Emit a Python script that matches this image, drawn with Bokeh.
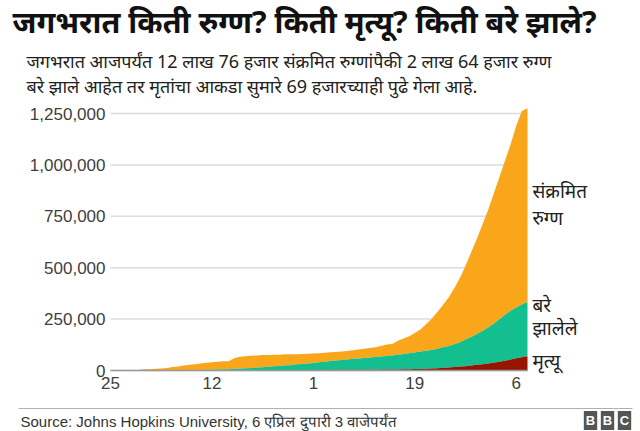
from bokeh.plotting import figure
from bokeh.models import Label, FixedTicker, NumeralTickFormatter, Range1d
from bokeh.embed import file_html
from bokeh.resources import INLINE

# Day index along the x axis (one value per day)
day = list(range(75))

# Cumulative totals, in thousands
confirmed_k = [0.6, 0.7, 0.9, 1.4, 2.1, 2.9, 5.6, 6.2, 8.2, 9.9,
               12.0, 16.8, 19.9, 23.9, 27.6, 30.8, 34.4, 37.1, 40.2, 42.8,
               44.8, 45.2, 60.4, 66.9, 69.0, 71.2, 73.3, 75.1, 75.6, 76.2,
               76.8, 78.6, 79.0, 79.6, 80.4, 81.4, 82.7, 84.1, 86.0, 88.4,
               90.3, 92.8, 95.1, 97.9, 101.8, 105.8, 109.8, 113.6, 118.6, 125.9,
               128.4, 145.0, 156.0, 167.0, 182.0, 200.0, 225.0, 252.0, 285.0, 318.0,
               355.0, 400.0, 450.0, 510.0, 575.0, 640.0, 710.0, 780.0, 860.0, 940.0,
               1020.0, 1100.0, 1190.0, 1262.0, 1276.0]

recovered_k = [0.03, 0.03, 0.04, 0.04, 0.05, 0.07, 0.11, 0.13, 0.14, 0.22,
               0.28, 0.47, 0.62, 0.89, 1.12, 1.47, 1.98, 2.49, 3.1, 3.69,
               4.49, 5.18, 6.63, 8.28, 9.33, 10.7, 12.4, 14.2, 16.1, 18.3,
               19.2, 23.2, 23.5, 27.3, 29.3, 31.0, 33.8, 37.0, 39.8, 42.7,
               45.5, 48.4, 50.5, 53.3, 55.2, 57.8, 59.2, 61.2, 63.7, 66.4,
               68.3, 70.6, 74.2, 77.6, 80.9, 84.1, 87.3, 90.1, 94.7, 100.0,
               105.0, 111.0, 119.0, 129.0, 139.0, 150.0, 161.0, 175.0, 190.0, 207.0,
               224.0, 237.0, 248.0, 256.0, 264.0]

deaths_k = [0.02, 0.02, 0.03, 0.04, 0.06, 0.08, 0.13, 0.13, 0.17, 0.21,
            0.26, 0.36, 0.43, 0.49, 0.56, 0.63, 0.72, 0.81, 0.91, 1.01,
            1.11, 1.12, 1.37, 1.52, 1.67, 1.77, 1.87, 2.01, 2.12, 2.25,
            2.25, 2.46, 2.47, 2.63, 2.71, 2.77, 2.81, 2.87, 2.94, 3.0,
            3.09, 3.16, 3.25, 3.35, 3.46, 3.56, 3.8, 4.0, 4.26, 4.62,
            4.72, 5.4, 5.82, 6.44, 7.13, 7.9, 8.73, 9.87, 11.3, 13.0,
            14.6, 16.5, 18.9, 21.2, 24.1, 27.4, 30.9, 34.0, 37.6, 42.1,
            47.2, 53.2, 59.0, 64.6, 69.4]

x_ticks = [0, 18, 36, 54, 72]
x_tick_labels = ["25", "12", "1", "19", "6"]
y_ticks = [0, 250000, 500000, 750000, 1000000, 1250000]

series_colors = ["#FAA61A", "#13BF8E", "#961500"]

title_text = "जगभरात किती रुग्ण? किती मृत्यू? किती बरे झाले?"
subtitle_lines = [
    "जगभरात आजपर्यंत 12 लाख 76 हजार संक्रमित रुग्णांपैकी 2 लाख 64 हजार रुग्ण",
    "बरे झाले आहेत तर मृतांचा आकडा सुमारे 69 हजारच्याही पुढे गेला आहे.",
]
source_text = "Source: Johns Hopkins University, 6 एप्रिल दुपारी 3 वाजेपर्यंत"

# Stacked layers: deaths at the bottom, recovered above, remaining confirmed on top
deaths = [v * 1000 for v in deaths_k]
recovered_top = [(d + r) * 1000 for d, r in zip(deaths_k, recovered_k)]
confirmed = [v * 1000 for v in confirmed_k]
zeros = [0] * len(day)

# The frame fills the whole canvas; the chart area sits inside it and the
# axes are pinned at x=0 / y=0 with fixed_location.
W, H = 640, 431
AREA_L, AREA_R, AREA_B = 110, 527, 370
X_END = day[-1]
PX_PER_DAY = (AREA_R - AREA_L) / X_END
UNITS_PER_PX = 1250000 / 257.0


def sx(px):
    return (px - AREA_L) / PX_PER_DAY


def sy(py):
    return (AREA_B - py) * UNITS_PER_PX


SANS = "Liberation Sans"
DEVA = "Noto Sans"

p = figure(width=W, height=H, output_backend="svg", toolbar_location=None,
           x_range=Range1d(sx(0), sx(W)), y_range=Range1d(sy(H), sy(0)),
           min_border=0, min_border_left=0, min_border_right=0,
           min_border_top=0, min_border_bottom=0)
p.outline_line_color = None
p.background_fill_color = "white"
p.border_fill_color = "white"
p.grid.visible = False

# Horizontal guide lines at the y ticks, across the plotted days only
p.segment(x0=[0] * len(y_ticks), x1=[X_END] * len(y_ticks), y0=y_ticks, y1=y_ticks,
          line_color="#dcdcdc", line_width=1.5)

p.varea(x=day, y1=recovered_top, y2=confirmed, fill_color=series_colors[0])
p.varea(x=day, y1=deaths, y2=recovered_top, fill_color=series_colors[1])
p.varea(x=day, y1=zeros, y2=deaths, fill_color=series_colors[2])

# Axes
p.yaxis.fixed_location = 0
p.yaxis.ticker = FixedTicker(ticks=y_ticks)
p.yaxis.formatter = NumeralTickFormatter(format="0,0")
p.yaxis.axis_line_color = None
p.yaxis.major_tick_line_color = None
p.yaxis.minor_tick_line_color = None
p.yaxis.major_tick_out = 0
p.yaxis.major_tick_in = 0
p.yaxis.major_label_standoff = 5
p.yaxis.major_label_text_font = SANS
p.yaxis.major_label_text_font_size = "17px"
p.yaxis.major_label_text_color = "#404040"

p.xaxis.fixed_location = 0
p.xaxis.bounds = (0, X_END)
p.xaxis.ticker = FixedTicker(ticks=x_ticks)
p.xaxis.major_label_overrides = {t: s for t, s in zip(x_ticks, x_tick_labels)}
p.xaxis.axis_line_color = "#999999"
p.xaxis.axis_line_width = 1.5
p.xaxis.major_tick_line_color = None
p.xaxis.minor_tick_line_color = None
p.xaxis.major_tick_out = 0
p.xaxis.major_tick_in = 0
p.xaxis.major_label_standoff = 6
p.xaxis.major_label_text_font = SANS
p.xaxis.major_label_text_font_size = "17px"
p.xaxis.major_label_text_color = "#404040"

# Title block
p.add_layout(Label(x=sx(12), y=sy(20), text=title_text, text_font=DEVA,
                   text_font_size="30.5px", text_font_style="bold",
                   text_color="#111111", text_baseline="middle"))
for i, line in enumerate(subtitle_lines):
    p.add_layout(Label(x=sx(26), y=sy(60 + 25 * i), text=line, text_font=DEVA,
                       text_font_size="18px", text_color="#222222",
                       text_baseline="middle"))

# Series labels at the right end of the areas
label_rows = [
    ("संक्रमित", 190), ("रुग्ण", 217),
    ("बरे", 304), ("झालेले", 327),
    ("मृत्यू", 360),
]
for text, py in label_rows:
    p.add_layout(Label(x=X_END, x_offset=5, y=sy(py), text=text, text_font=DEVA,
                       text_font_size="19px", text_color="#222222",
                       text_baseline="middle"))

# Footer: rule, source note and logo
p.segment(x0=[sx(18)], x1=[sx(632)], y0=[sy(408)], y1=[sy(408)],
          line_color="#b0b0b0", line_width=1)
p.add_layout(Label(x=sx(20), y=sy(421), text=source_text, text_font=SANS,
                   text_font_size="15px", text_color="#333333", text_baseline="middle"))
for i, letter in enumerate("BBC"):
    p.add_layout(Label(x=sx(590 + 17 * i), y=sy(420), text=letter, text_font=SANS,
                       text_font_size="13px", text_font_style="bold", text_color="white",
                       text_align="center", text_baseline="middle",
                       background_fill_color="#555555", padding=2))

open("out.html", "w").write(file_html(p, INLINE))
